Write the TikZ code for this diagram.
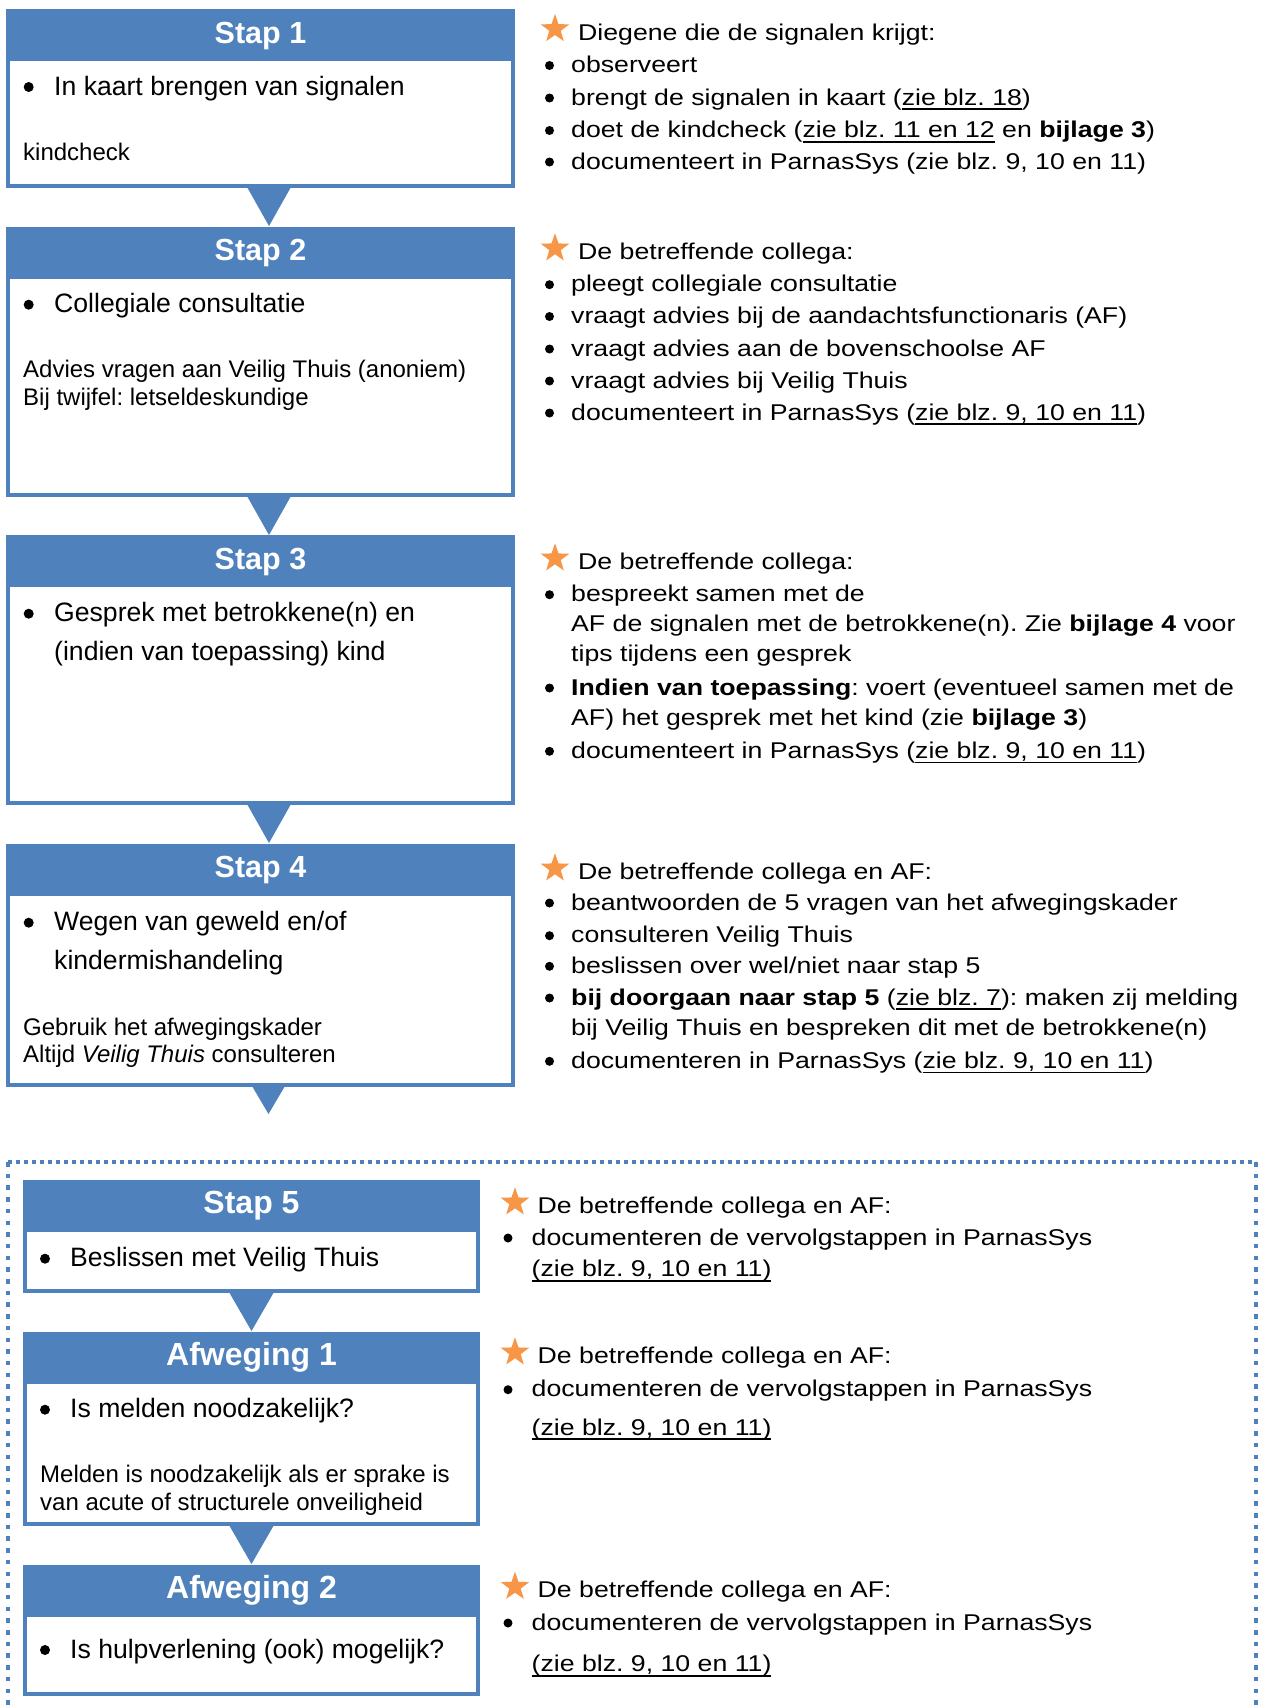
\documentclass[tikz,border=0pt]{standalone}
\usepackage{fontspec}
\setmainfont{Liberation Sans}
\newfontfamily\rfont{Liberation Sans}[FakeStretch=1.17]
\usetikzlibrary{shapes.geometric}
\definecolor{hblue}{HTML}{4F81BD}
\definecolor{sorange}{HTML}{F79646}
\frenchspacing
\newcommand\ulx[1]{\setbox0\hbox{#1}\rlap{\rule[-5pt]{\wd0}{1.8pt}}\box0\relax}
\tikzset{
  hdr/.style={fill=hblue, inner sep=0pt, outer sep=0pt, anchor=north west},
  bodybox/.style={draw=hblue, line width=4pt, fill=white, inner sep=0pt, outer sep=0pt, anchor=north west},
  htext/.style={text=white, font=\bfseries\fontsize{30.5}{36}\selectfont, anchor=base, inner sep=0pt},
  htextb/.style={text=white, font=\bfseries\fontsize{32}{36}\selectfont, anchor=base, inner sep=0pt},
  ltext/.style={font=\fontsize{26.6}{32}\selectfont, anchor=base west, inner sep=0pt},
  stext/.style={font=\fontsize{24}{28}\selectfont, anchor=base west, inner sep=0pt},
  rtext/.style={font=\rfont\fontsize{22.8}{30}\selectfont, anchor=base west, inner sep=0pt},
  mystar/.style={star, star points=5, star point ratio=2.5, fill=sorange, inner sep=0pt, minimum size=30pt},
  tri/.style={fill=hblue},
  dotsh/.style={draw=hblue, line width=4pt, dash pattern=on 4pt off 4pt},
  dotsv/.style={draw=hblue, line width=4pt, dash pattern=on 4.5pt off 7.2pt},
}
% name, x0, x1, top, header bottom, bottom
\newcommand\stepbox[6]{%
  \node[hdr, minimum width={#3-#2}, minimum height={#5-#4}] (#1h) at (#2,#4) {};
  \node[bodybox, minimum width={#3-#2-4}, minimum height={#6-#5}] (#1b) at (#2+2,#5-2) {};
}
\newcommand\lb[2]{\fill (#1,#2-8) circle (5pt);}
\newcommand\rb[2]{\fill (#1,#2-7) circle (4.5pt);}
\begin{document}
\begin{tikzpicture}[x=1pt,y=-1pt]
\useasboundingbox (0,0) rectangle (1264,1708);
\fill[white] (0,0) rectangle (1264,1708);

% ---------------- Stap 1
\stepbox{s1}{6}{515}{9}{61}{188}
\node[htext] (s1t) at (260.5,43.3) {Stap 1};
\lb{28.7}{95}
\node[ltext] (s1a) at (54,95) {In kaart brengen van signalen};
\node[stext] (s1b) at (23,160) {kindcheck};

% ---------------- Stap 2
\stepbox{s2}{6}{515}{227}{279}{497}
\node[htext] (s2t) at (260.5,260.7) {Stap 2};
\lb{28.7}{312.7}
\node[ltext] (s2a) at (54,312.7) {Collegiale consultatie};
\node[stext] (s2b) at (23,377) {Advies vragen aan Veilig Thuis (anoniem)};
\node[stext] (s2c) at (23,405) {Bij twijfel: letseldeskundige};

% ---------------- Stap 3
\stepbox{s3}{6}{515}{535}{587}{805}
\node[htext] (s3t) at (260.5,569.3) {Stap 3};
\lb{28.7}{621.7}
\node[ltext] (s3a) at (54,621.7) {Gesprek met betrokkene(n) en};
\node[ltext] (s3b) at (54,660) {(indien van toepassing) kind};

% ---------------- Stap 4
\stepbox{s4}{6}{515}{844}{896}{1087}
\node[htext] (s4t) at (260.5,877.3) {Stap 4};
\lb{28.7}{930.7}
\node[ltext] (s4a) at (54,930.7) {Wegen van geweld en/of};
\node[ltext] (s4b) at (54,969.3) {kindermishandeling};
\node[stext] (s4c) at (23,1035) {Gebruik het afwegingskader};
\node[stext] (s4d) at (23,1062.7) {Altijd \textit{Veilig Thuis} consulteren};

% ---------------- connectors upper
\fill[tri] (247,187) -- (291,187) -- (269,226) -- cycle;
\fill[tri] (247,496) -- (291,496) -- (269,535) -- cycle;
\fill[tri] (247,804) -- (291,804) -- (269,843) -- cycle;
\fill[tri] (252,1086) -- (285,1086) -- (268.5,1114) -- cycle;

% ---------------- dotted frame
\draw[dotsh] (8,1162) -- (1256,1162);
\draw[dotsv] (8,1162) -- (8,1730);
\draw[dotsv] (1256,1162) -- (1256,1730);

% ---------------- Stap 5
\stepbox{s5}{23}{480}{1180}{1232}{1293}
\node[htextb] (s5t) at (251.5,1213.3) {Stap 5};
\lb{45}{1266.7}
\node[ltext] (s5a) at (70,1266.7) {Beslissen met Veilig Thuis};

% ---------------- Afweging 1
\stepbox{a1}{23}{480}{1332}{1384}{1526}
\node[htextb] (a1t) at (251.5,1365) {Afweging 1};
\lb{45}{1417.7}
\node[ltext] (a1a) at (70,1417.7) {Is melden noodzakelijk?};
\node[stext] (a1b) at (40,1482.7) {Melden is noodzakelijk als er sprake is};
\node[stext] (a1c) at (40,1510.7) {van acute of structurele onveiligheid};

% ---------------- Afweging 2
\stepbox{a2}{23}{480}{1565}{1617}{1696}
\node[htextb] (a2t) at (251.5,1598) {Afweging 2};
\lb{45}{1658}
\node[ltext] (a2a) at (70,1658) {Is hulpverlening (ook) mogelijk?};

% ---------------- connectors lower
\fill[tri] (229,1292) -- (274,1292) -- (251.5,1331) -- cycle;
\fill[tri] (229,1525) -- (274,1525) -- (251.5,1564) -- cycle;

% ---------------- right column, block 1
\node[mystar] (r1s) at (555,29) {};
\node[rtext] (r1h) at (578,40) {Diegene die de signalen krijgt:};
\rb{549.5}{72.5}
\node[rtext] (r1a) at (571,72.5) {observeert};
\rb{549.5}{105}
\node[rtext] (r1b) at (571,105) {brengt de signalen in kaart (\ulx{zie blz. 18})};
\rb{549.5}{137.5}
\node[rtext] (r1c) at (571,137.5) {doet de kindcheck (\ulx{zie blz. 11 en 12} en \textbf{bijlage 3})};
\rb{549.5}{169}
\node[rtext] (r1d) at (571,169) {documenteert in ParnasSys (zie blz. 9, 10 en 11)};

% ---------------- block 2
\node[mystar] (r2s) at (555,248.3) {};
\node[rtext] (r2h) at (578,259.3) {De betreffende collega:};
\rb{549.5}{291.7}
\node[rtext] (r2a) at (571,291.7) {pleegt collegiale consultatie};
\rb{549.5}{323.5}
\node[rtext] (r2b) at (571,323.5) {vraagt advies bij de aandachtsfunctionaris (AF)};
\rb{549.5}{356}
\node[rtext] (r2c) at (571,356) {vraagt advies aan de bovenschoolse AF};
\rb{549.5}{388}
\node[rtext] (r2d) at (571,388) {vraagt advies bij Veilig Thuis};
\rb{549.5}{420}
\node[rtext] (r2e) at (571,420) {documenteert in ParnasSys (\ulx{zie blz. 9, 10 en 11})};

% ---------------- block 3
\node[mystar] (r3s) at (555,558.3) {};
\node[rtext] (r3h) at (578,569.3) {De betreffende collega:};
\rb{549.5}{601.7}
\node[rtext] (r3a) at (571,601.7) {bespreekt samen met de};
\node[rtext] (r3b) at (571,631.7) {AF de signalen met de betrokkene(n). Zie \textbf{bijlage 4} voor};
\node[rtext] (r3c) at (571,661) {tips tijdens een gesprek};
\rb{549.5}{695}
\node[rtext] (r3d) at (571,695) {\textbf{Indien van toepassing}: voert (eventueel samen met de};
\node[rtext] (r3e) at (571,725) {AF) het gesprek met het kind (zie \textbf{bijlage 3})};
\rb{549.5}{758.3}
\node[rtext] (r3f) at (571,758.3) {documenteert in ParnasSys (\ulx{zie blz. 9, 10 en 11})};

% ---------------- block 4
\node[mystar] (r4s) at (555,868.3) {};
\node[rtext] (r4h) at (578,879.3) {De betreffende collega en AF:};
\rb{549.5}{910}
\node[rtext] (r4a) at (571,910) {beantwoorden de 5 vragen van het afwegingskader};
\rb{549.5}{942.7}
\node[rtext] (r4b) at (571,942.7) {consulteren Veilig Thuis};
\rb{549.5}{973.3}
\node[rtext] (r4c) at (571,973.3) {beslissen over wel/niet naar stap 5};
\rb{549.5}{1005}
\node[rtext] (r4d) at (571,1005) {\textbf{bij doorgaan naar stap 5} (\ulx{zie blz. 7}): maken zij melding};
\node[rtext] (r4e) at (571,1035) {bij Veilig Thuis en bespreken dit met de betrokkene(n)};
\rb{549.5}{1068.3}
\node[rtext] (r4f) at (571,1068.3) {documenteren in ParnasSys (\ulx{zie blz. 9, 10 en 11})};

% ---------------- block 5
\node[mystar] (r5s) at (515,1202.3) {};
\node[rtext] (r5h) at (537.5,1213.3) {De betreffende collega en AF:};
\rb{508}{1245}
\node[rtext] (r5a) at (531.5,1245) {documenteren de vervolgstappen in ParnasSys};
\node[rtext] (r5b) at (531.5,1276.7) {\ulx{(zie blz. 9, 10 en 11)}};

% ---------------- block 6
\node[mystar] (r6s) at (515,1352.3) {};
\node[rtext] (r6h) at (537.5,1363.3) {De betreffende collega en AF:};
\rb{508}{1396.7}
\node[rtext] (r6a) at (531.5,1396.7) {documenteren de vervolgstappen in ParnasSys};
\node[rtext] (r6b) at (531.5,1435) {\ulx{(zie blz. 9, 10 en 11)}};

% ---------------- block 7
\node[mystar] (r7s) at (515,1586.7) {};
\node[rtext] (r7h) at (537.5,1597.7) {De betreffende collega en AF:};
\rb{508}{1630}
\node[rtext] (r7a) at (531.5,1630) {documenteren de vervolgstappen in ParnasSys};
\node[rtext] (r7b) at (531.5,1671.7) {\ulx{(zie blz. 9, 10 en 11)}};
\end{tikzpicture}
\end{document}
